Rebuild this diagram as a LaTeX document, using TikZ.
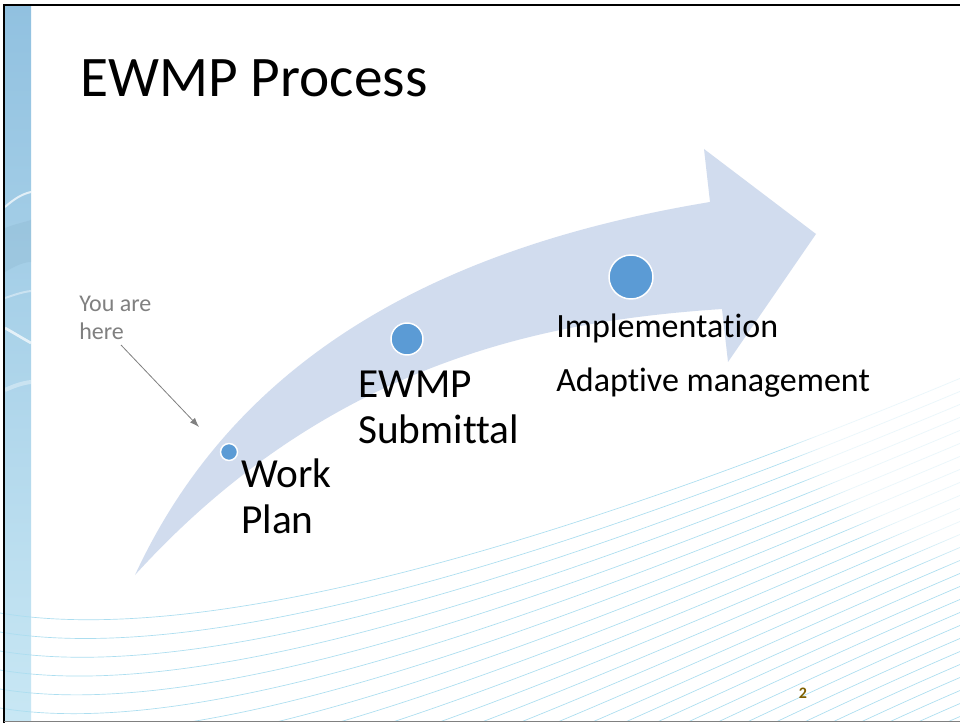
\documentclass[tikz,border=0pt]{standalone}
\usepackage{fontspec}
\setmainfont{Carlito}[Ligatures=NoCommon]
\usetikzlibrary{arrows.meta, fadings}

\definecolor{shaftblue}{RGB}{209,220,238}
\definecolor{dotblue}{RGB}{91,155,213}
\definecolor{wavecyan}{RGB}{172,222,240}
\definecolor{striptop}{RGB}{145,193,224}
\definecolor{stripbot}{RGB}{200,231,244}
\definecolor{pagegold}{RGB}{127,96,0}
\definecolor{heregray}{RGB}{128,128,128}

\tikzset{
    stagedot/.style={circle, fill=dotblue, draw=white, line width=1.1pt, inner sep=0pt},
    stagetext/.style={anchor=base west, inner sep=0pt, align=left,
        font=\fontsize{31}{34.5}\selectfont},
    smalltext/.style={anchor=base west, inner sep=0pt,
        font=\fontsize{25.5}{29}\selectfont},
    pointer/.style={draw=heregray, line width=0.6pt, -{Latex[length=7pt,width=5pt]}}
}

\begin{document}
\begin{tikzpicture}[x=0.75pt, y=-0.75pt]
        \useasboundingbox (0,0) rectangle (960,723);
        \fill[white] (0,0) rectangle (960,723);

        % left strip
        \shade[top color=striptop, bottom color=stripbot] (5,6) rectangle (31,720);
        \begin{scope}
            \clip (5,6) rectangle (31,720);
            \fill[striptop!85!black, opacity=.18] (5,228) .. controls (15,224) and (25,222) .. (31,220)
                -- (31,262) .. controls (22,262) and (12,268) .. (5,272) -- cycle;
            \draw[white, opacity=.7, line width=1.5pt] (5,207) .. controls (14,199) and (22,194) .. (31,192);
            \draw[white, opacity=.7, line width=2pt] (5,328) .. controls (14,333) and (22,338) .. (31,343);
            \draw[white, opacity=.4, line width=1.5pt] (5,298) .. controls (14,295) and (22,292) .. (31,291);
            \draw[white, opacity=.35, line width=3pt] (5,390) .. controls (14,386) and (22,383) .. (31,382);
        \end{scope}

        % waves
        \begin{scope}
            \clip (0,6) rectangle (960,720);
            \foreach \i in {0,...,30}
                \draw[wavecyan, line width=0.5pt]
                    (0,613+19*\i) .. controls (220,650+19*\i) and (600,530+13*\i) .. (980,370+13*\i);
            \fill[white, opacity=.75, path fading=circle with fuzzy edge 20 percent] (960,380) circle (190);
        \end{scope}

        % big arrow
        \fill[shaftblue] (135,575) .. controls (230,370) and (420,250) .. (710,202)
            -- (704,149) -- (816,234) -- (728,362) -- (722,309)
            .. controls (560,320) and (335,355) .. (135,575) -- cycle;

        \node[stagedot, minimum size=17pt*0.75] (dotWork) at (229,452) {};
        \node[stagedot, minimum size=32pt*0.75] (dotSubmit) at (407,339) {};
        \node[stagedot, minimum size=44pt*0.75] (dotImpl) at (631,277) {};

        \node[anchor=base west, inner sep=0pt, font=\fontsize{43}{52}\selectfont] (title) at (80,97) {EWMP Process};

        \node[stagetext] (workplan) at (241,533) {Work\\Plan};
        \node[stagetext] (submittal) at (358,443) {EWMP\\Submittal};
        \node[smalltext] (implement) at (556,338) {Implementation};
        \node[smalltext] (adaptive) at (556,392) {Adaptive management};

        \node[anchor=base west, inner sep=0pt, align=left, text=heregray,
            font=\fontsize{18}{21.5}\selectfont] (youhere) at (79,340) {You are\\here};
        \coordinate (hereTail) at (121,345);
        \coordinate (hereTip) at (199,427);
        \draw[pointer] (hereTail) -- (hereTip);

        \node[anchor=base, inner sep=0pt, text=pagegold, font=\fontsize{12}{14}\selectfont\bfseries] (pagenum) at (803,698) {2};

        % frame
        \draw[line width=2pt] (4,723) -- (4,5) -- (960,5);
        \draw[gray, line width=1pt] (4,721.5) -- (960,721.5);
    \end{tikzpicture}
\end{document}
